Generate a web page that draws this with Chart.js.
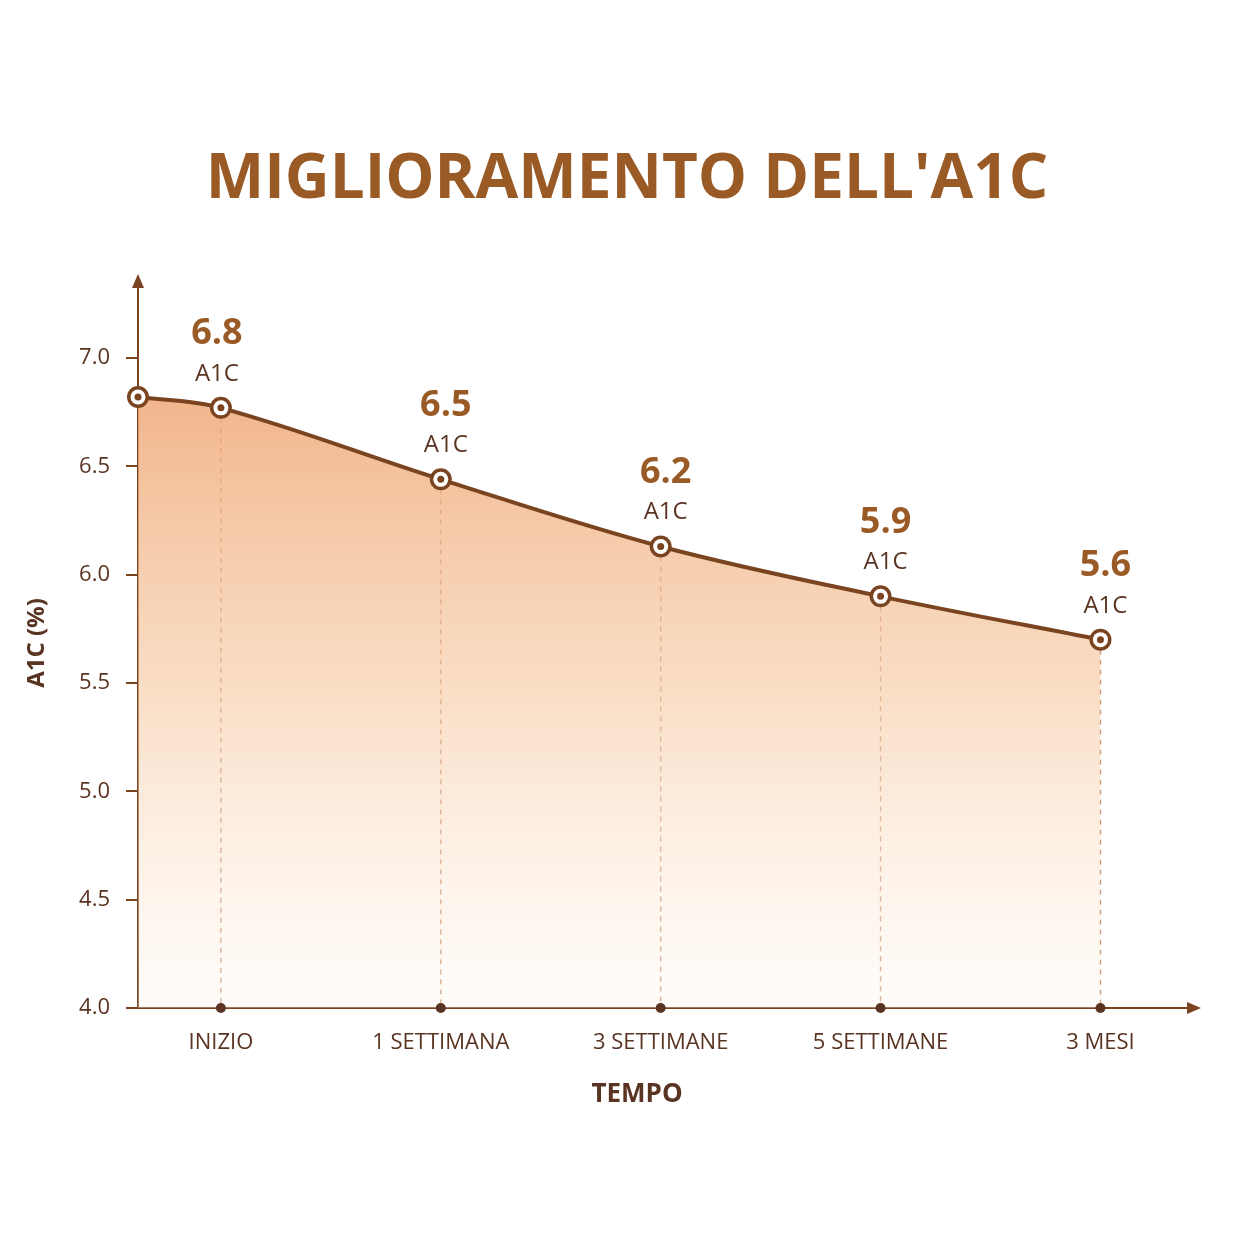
<!DOCTYPE html>
<html><head><meta charset="utf-8">
<script src="https://cdn.jsdelivr.net/npm/chart.js@4.4.0/dist/chart.umd.min.js"></script>
<style>html,body{margin:0;background:#fff}#w{width:1254px;height:1254px}</style>
</head><body><div id="w"><canvas id="c"></canvas></div>
<script>
const categories = ["INIZIO","1 SETTIMANA","3 SETTIMANE","5 SETTIMANE","3 MESI"];
const startValue = 6.82;
const values = [6.77, 6.44, 6.13, 5.90, 5.70];
const valueLabels = ["6.8","6.5","6.2","5.9","5.6"];
const yTicks = [4.0,4.5,5.0,5.5,6.0,6.5,7.0];
const BROWN="#7a4420", DARK="#5a3422", LABEL="#9a5a26";
const F="'Open Sans', 'DejaVu Sans', sans-serif";

const pts=[{x:-0.377,y:startValue}].concat(values.map((v,i)=>({x:i,y:v})));

const deco={id:'deco',
 beforeDraw(ch){const c=ch.ctx;c.save();c.fillStyle=LABEL;c.font="bold 62px "+F;c.textAlign='center';c.textBaseline='middle';c.fillText("MIGLIORAMENTO DELL'A1C",627,180);
  c.fillStyle=DARK;c.font="bold 26px "+F;c.fillText("TEMPO",637,1095);
  c.translate(37,643);c.rotate(-Math.PI/2);c.font="bold 24px "+F;c.fillText("A1C (%)",0,0);
  c.restore();},
 beforeDatasetsDraw(ch){
  const c=ch.ctx,x=ch.scales.x,y=ch.scales.y,a=ch.chartArea;
  c.save();c.setLineDash([5,5]);c.strokeStyle="#c99a7c";c.lineWidth=1.5;
  values.forEach((v,i)=>{c.beginPath();c.moveTo(x.getPixelForValue(i),y.getPixelForValue(v));c.lineTo(x.getPixelForValue(i),a.bottom);c.stroke();});
  c.restore();
 },
 afterDatasetsDraw(ch){
  const c=ch.ctx,x=ch.scales.x,y=ch.scales.y,a=ch.chartArea;
  c.save();
  c.fillStyle=BROWN;c.strokeStyle=BROWN;c.lineWidth=2;
  c.beginPath();c.moveTo(a.left,a.top-6);c.lineTo(a.left-6,a.top+8);c.lineTo(a.left+6,a.top+8);c.closePath();c.fill();
  c.beginPath();c.moveTo(a.right+6,a.bottom);c.lineTo(a.right-8,a.bottom-6);c.lineTo(a.right-8,a.bottom+6);c.closePath();c.fill();
  c.beginPath();c.moveTo(a.left-12,a.bottom);c.lineTo(a.left,a.bottom);c.stroke();
  values.forEach((v,i)=>{c.beginPath();c.fillStyle=DARK;c.arc(x.getPixelForValue(i),a.bottom,5,0,Math.PI*2);c.fill();});
  pts.forEach(p=>{const px=x.getPixelForValue(p.x),py=y.getPixelForValue(p.y);
   c.beginPath();c.fillStyle=BROWN;c.arc(px,py,11,0,Math.PI*2);c.fill();
   c.beginPath();c.fillStyle="#fff";c.arc(px,py,7.5,0,Math.PI*2);c.fill();
   c.beginPath();c.fillStyle=BROWN;c.arc(px,py,3.5,0,Math.PI*2);c.fill();});
  c.textAlign='center';c.textBaseline='middle';
  values.forEach((v,i)=>{const px=x.getPixelForValue(i)+(i==0?-4:5),py=y.getPixelForValue(v);
   c.fillStyle=LABEL;c.font="bold 36px "+F;c.fillText(valueLabels[i],px,py-74);
   c.fillStyle=DARK;c.font="24px "+F;c.fillText("A1C",px,py-34);});
  c.restore();
 }};

new Chart(document.getElementById('c'),{
 type:'line',
 data:{datasets:[{data:pts,borderColor:BROWN,borderWidth:4,tension:0.35,pointRadius:0,
   fill:'origin',
   backgroundColor(ctx){const a=ctx.chart.chartArea;if(!a)return 'rgba(240,170,120,0.5)';
     const g=ctx.chart.ctx.createLinearGradient(0,380,0,a.bottom);
     g.addColorStop(0,'rgba(238,165,115,0.85)');g.addColorStop(0.5,'rgba(246,200,160,0.6)');g.addColorStop(1,'rgba(255,245,235,0.3)');return g;}}]},
 options:{responsive:true,maintainAspectRatio:false,animation:false,
  layout:{padding:{top:280,right:59,left:0,bottom:0}},
  plugins:{legend:{display:false},tooltip:{enabled:false}},
  scales:{
   x:{type:'linear',min:-0.377,max:4.43,
     afterBuildTicks(s){s.ticks=categories.map((c,i)=>({value:i}));},
     afterFit(s){s.height=246;},
     grid:{display:false},border:{color:BROWN,width:2},
     ticks:{padding:14,color:DARK,font:{family:F,size:22},callback:(v)=>categories[v]}},
   y:{min:4.0,max:7.36,
     afterBuildTicks(s){s.ticks=yTicks.map(v=>({value:v}));},
     afterFit(s){s.width=138;},
     grid:{drawOnChartArea:false,tickLength:12,color:BROWN,lineWidth:2},border:{color:BROWN,width:2},
     ticks:{padding:16,color:DARK,font:{family:F,size:22},callback:v=>v.toFixed(1)}}
  }},
 plugins:[deco]});
</script></body></html>
